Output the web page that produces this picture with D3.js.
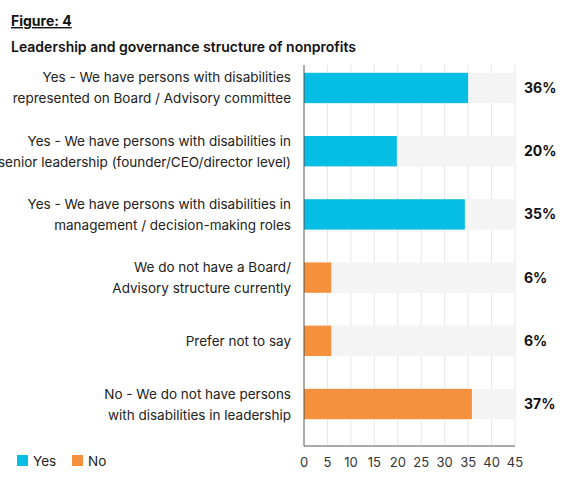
<!DOCTYPE html>
<html><head><meta charset="utf-8">
<script src="https://cdn.jsdelivr.net/npm/d3@7"></script>
<style>body{margin:0;background:#fff;font-family:Inter,"Open Sans",sans-serif;}</style>
</head><body><svg id="c" width="575" height="487"></svg>
<script>
const categories = [
  ["Yes - We have persons with disabilities", "represented on Board / Advisory committee"],
  ["Yes - We have persons with disabilities in", "senior leadership (founder/CEO/director level)"],
  ["Yes - We have persons with disabilities in", "management / decision-making roles"],
  ["We do not have a Board/", "Advisory structure currently"],
  ["Prefer not to say"],
  ["No - We do not have persons", "with disabilities in leadership"]
];
const groups = ["Yes", "Yes", "Yes", "No", "No", "No"];
const values = [35, 19.8, 34.3, 5.8, 5.8, 35.8];
const pctLabels = ["36%", "20%", "35%", "6%", "6%", "37%"];
const ticks = [0, 5, 10, 15, 20, 25, 30, 35, 40, 45];
const colors = {Yes: "#06bde3", No: "#f5903d"};

const svg = d3.select("#c");
const x = d3.scaleLinear().domain([0, 45]).range([304, 515]);
const y = d3.scaleBand().domain(d3.range(categories.length)).range([57, 435]).paddingInner(0.52).paddingOuter(0.25);

svg.append("text").attr("x", 11).attr("y", 26).text("Figure: 4")
  .style("font-size", "14px").style("font-weight", 700).style("text-decoration", "underline").attr("fill", "#111");
svg.append("text").attr("x", 11).attr("y", 52).text("Leadership and governance structure of nonprofits")
  .style("font-size", "14px").style("font-weight", 600).attr("fill", "#111");

svg.append("g").selectAll("line").data(ticks.slice(1)).join("line")
  .attr("x1", d => x(d)).attr("x2", d => x(d)).attr("y1", 65).attr("y2", 445)
  .attr("stroke", "#e6e6e6");

const row = svg.append("g").selectAll("g").data(values).join("g");
row.append("rect").attr("x", x(0)).attr("y", (d, i) => y(i)).attr("height", y.bandwidth())
  .attr("width", x(45) - x(0)).attr("fill", "#f4f4f4");
row.append("rect").attr("x", x(0)).attr("y", (d, i) => y(i)).attr("height", y.bandwidth())
  .attr("width", d => x(d) - x(0)).attr("fill", (d, i) => colors[groups[i]]);
row.append("text").attr("x", 524).attr("y", (d, i) => y(i) + y.bandwidth() / 2 + 5)
  .text((d, i) => pctLabels[i]).style("font-size", "14px").style("font-weight", 700).attr("fill", "#111");
row.each(function(d, i) {
  const lines = categories[i];
  const t = d3.select(this).append("text").attr("text-anchor", "end")
    .style("font-size", "13.5px").attr("fill", "#222");
  const cy = y(i) + y.bandwidth() / 2;
  lines.forEach((l, j) => {
    t.append("tspan").attr("x", 291).attr("y", cy + 5 + (j - (lines.length - 1) / 2) * 21).text(l);
  });
});

svg.append("line").attr("x1", x(0)).attr("x2", x(0)).attr("y1", 65).attr("y2", 446).attr("stroke", "#555");
svg.append("line").attr("x1", x(0)).attr("x2", x(45)).attr("y1", 446).attr("y2", 446).attr("stroke", "#555");

svg.append("g").selectAll("text").data(ticks).join("text")
  .attr("x", d => x(d)).attr("y", 467).attr("text-anchor", "middle").text(d => d)
  .style("font-size", "13px").attr("fill", "#333");

const leg = svg.append("g").selectAll("g").data(["Yes", "No"]).join("g")
  .attr("transform", (d, i) => `translate(${17 + i * 55},455)`);
leg.append("rect").attr("width", 11).attr("height", 11).attr("fill", d => colors[d]);
leg.append("text").attr("x", 16).attr("y", 11).text(d => d).style("font-size", "13.5px").attr("fill", "#222");
</script></body></html>
